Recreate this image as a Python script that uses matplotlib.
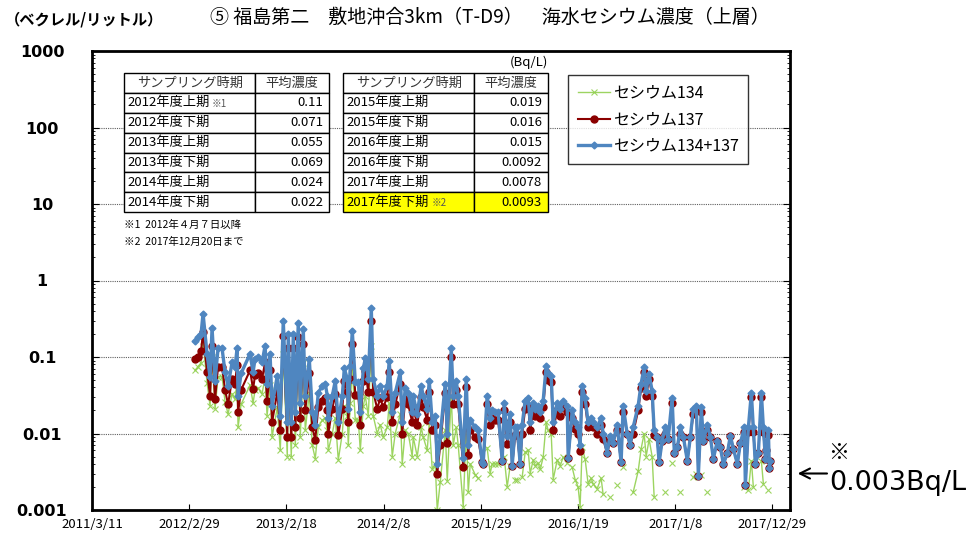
"""⑤ 福島第二 敷地沖合3km (T-D9) seawater cesium concentration (upper layer)."""
import datetime as dt

import matplotlib
matplotlib.use("Agg")
import matplotlib.pyplot as plt
import numpy as np
import pandas as pd

plt.rcParams["font.family"] = ["Noto Sans CJK JP", "DejaVu Sans"]

nan = np.nan

# sampling dates, decimal years
YEARS = [
    2012.22, 2012.25, 2012.28, 2012.30, 2012.34, 2012.37, 2012.39, 2012.42, 2012.45, 2012.49,
    2012.52, 2012.55, 2012.59, 2012.62, 2012.64, 2012.65, 2012.68, 2012.77, 2012.80, 2012.82,
    2012.85, 2012.89, 2012.92, 2012.94, 2012.97, 2012.99, 2013.04, 2013.07, 2013.10, 2013.14,
    2013.15, 2013.18, 2013.20, 2013.22, 2013.25, 2013.27, 2013.30, 2013.32, 2013.36, 2013.39,
    2013.42, 2013.45, 2013.49, 2013.52, 2013.54, 2013.55, 2013.59, 2013.62, 2013.65, 2013.69,
    2013.71, 2013.74, 2013.75, 2013.77, 2013.79, 2013.82, 2013.85, 2013.87, 2013.90, 2013.92,
    2013.95, 2013.98, 2014.00, 2014.04, 2014.07, 2014.10, 2014.14, 2014.16, 2014.19, 2014.22,
    2014.27, 2014.29, 2014.32, 2014.35, 2014.39, 2014.40, 2014.44, 2014.48, 2014.50, 2014.54,
    2014.56, 2014.59, 2014.62, 2014.64, 2014.67, 2014.72, 2014.74, 2014.78, 2014.80, 2014.83,
    2014.85, 2014.90, 2014.93, 2014.95, 2014.97, 2015.02, 2015.05, 2015.09, 2015.10, 2015.14,
    2015.17, 2015.19, 2015.22, 2015.25, 2015.29, 2015.31, 2015.34, 2015.37, 2015.39, 2015.42,
    2015.44, 2015.47, 2015.49, 2015.52, 2015.55, 2015.57, 2015.60, 2015.62, 2015.65, 2015.67,
    2015.70, 2015.73, 2015.75, 2015.78, 2015.80, 2015.84, 2015.87, 2015.90, 2015.94, 2015.95,
    2015.99, 2016.02, 2016.05, 2016.07, 2016.09, 2016.12, 2016.15, 2016.18, 2016.20, 2016.24,
    2016.28, 2016.30, 2016.34, 2016.37, 2016.40, 2016.44, 2016.48, 2016.50, 2016.54, 2016.57,
    2016.60, 2016.65, 2016.68, 2016.71, 2016.73, 2016.76, 2016.79, 2016.81, 2016.84, 2016.86,
    2016.89, 2016.92, 2016.95, 2016.99, 2017.01, 2017.04, 2017.07, 2017.10, 2017.14, 2017.17,
    2017.20, 2017.23, 2017.25, 2017.28, 2017.30, 2017.34, 2017.37, 2017.40, 2017.44, 2017.47,
    2017.50, 2017.54, 2017.57, 2017.60, 2017.64, 2017.67, 2017.71, 2017.72, 2017.75, 2017.78,
    2017.80, 2017.82, 2017.85, 2017.88, 2017.90, 2017.92, 2017.93, 2017.95, 2017.96, 2017.97,
]

CS_TOTAL = [
    .16, .18, .20, .37, .11, .054, .24, .049, .13, .13,
    .063, .042, .085, .073, .13, .031, .061, .11, .063, .095,
    .10, .085, .14, .044, .11, .023, .057, .017, .30, .014,
    .20, .014, .20, .019, .28, .025, .23, .031, .095, .019,
    .013, .034, .042, .045, .031, .016, .031, .049, .014, .031,
    .071, .052, .021, .077, .22, .047, .047, .019, .071, .096,
    .052, .44, .052, .031, .042, .031, .042, .089, .019, .034,
    .063, .014, .039, .034, .019, .031, .018, .042, .031, .021,
    .049, .014, .017, .0040, .0094, .045, .010, .13, .031, .049,
    .031, .0048, .052, .0070, .015, .012, .011, .0042, .0040, .031,
    .016, .020, .019, .019, .0044, .025, .0094, .018, .0038, .012,
    .012, .0040, .013, .027, .029, .014, .025, .021, .023, .019,
    .027, .077, .061, .057, .014, .025, .021, .027, .023, .0048,
    .020, .014, .012, .0070, .042, .029, .014, .016, .014, .012,
    .016, .010, .0056, .0094, .0076, .013, .0042, .023, .010, .0070,
    .012, .023, .045, .073, .036, .060, .036, .011, .0090, .0042,
    .0080, .012, .0085, .029, .0055, .0066, .012, .0090, .0044, .0090,
    .021, .023, .0028, .022, .0080, .013, .0090, .0047, .0080, .0066,
    .0040, .0055, .0094, .0063, .0040, .0075, .012, .0021, .012, .034,
    .012, .0040, .0055, .034, .012, .0047, .0060, .011, .0035, .0044,
]

CS137 = [
    .093, .10, .12, .21, .064, .031, .14, .028, .075, .075,
    .037, .024, .052, .045, .079, .019, .037, .067, .038, .058,
    .061, .052, .085, .027, .067, .014, .035, .011, .19, .0090,
    .13, .0090, .13, .012, .18, .016, .15, .020, .061, .012,
    .0083, .022, .027, .029, .020, .010, .021, .033, .0095, .021,
    .048, .035, .014, .052, .15, .032, .032, .013, .048, .065,
    .035, .30, .035, .021, .029, .022, .030, .064, .014, .024,
    .045, .010, .028, .024, .014, .022, .013, .030, .022, .015,
    .035, .011, .013, .0030, .0071, .034, .0076, .099, .024, .037,
    .024, .0037, .040, .0053, .011, .0091, .0084, .0042, .0040, .024,
    .013, .016, .015, .015, .0044, .020, .0074, .014, .0038, .0095,
    .0095, .0040, .010, .021, .023, .011, .020, .017, .019, .016,
    .022, .063, .050, .047, .011, .020, .017, .022, .019, .0048,
    .016, .0115, .010, .0059, .035, .024, .012, .013, .012, .010,
    .013, .0084, .0056, .0079, .0076, .011, .0042, .019, .010, .0070,
    .010, .020, .039, .063, .031, .052, .031, .0095, .0090, .0042,
    .0080, .010, .0085, .025, .0055, .0066, .010, .0090, .0044, .0090,
    .018, .020, .0028, .019, .0080, .011, .0090, .0047, .0080, .0066,
    .0040, .0055, .0094, .0063, .0040, .0075, .0105, .0021, .0105, .030,
    .0105, .0040, .0055, .030, .0105, .0047, .0060, .0095, .0035, .0044,
]

# nan = not detected (not plotted)
CS134 = [
    .067, .075, .084, .16, .046, .023, .10, .021, .055, .055,
    .026, .018, .033, .028, .051, .012, .024, .043, .025, .037,
    .039, .033, .055, .017, .043, .0090, .022, .0060, .11, .0050,
    .072, .0050, .072, .0070, .10, .0090, .083, .011, .034, .0070,
    .0047, .012, .015, .016, .011, .0060, .010, .016, .0045, .010,
    .023, .017, .0070, .025, .070, .015, .015, .0060, .023, .031,
    .017, .14, .017, .010, .013, .0090, .012, .025, .0050, .010,
    .018, .0040, .011, .010, .0050, .0090, .0050, .012, .0090, .0060,
    .014, .0034, .0040, .0010, .0023, .011, .0024, .031, .0070, .012,
    .0070, .0011, .012, .0017, .0040, .0029, .0026, nan, nan, .0065,
    .0030, .0040, .0040, .0040, nan, .0050, .0020, .0038, nan, .0025,
    .0025, nan, .0027, .0057, .0060, .0030, .0045, .0038, .0041, .0034,
    .0049, .014, .011, .010, .0025, .0045, .0038, .0049, .0041, nan,
    .0036, .0025, .0020, .0011, .0067, .0046, .0022, .0026, .0022, .0019,
    .0026, .0016, nan, .0015, nan, .0021, nan, .0037, nan, nan,
    .0017, .0032, .0063, .010, .0050, .0084, .0050, .0015, nan, nan,
    nan, .0017, nan, .0041, nan, nan, .0017, nan, nan, nan,
    .0027, .0030, nan, .0029, nan, .0017, nan, nan, nan, nan,
    nan, nan, nan, nan, nan, nan, .0020, nan, .0018, .0044,
    .0020, nan, nan, .0044, .0022, nan, nan, .0018, nan, nan,
]

PERIODS_1 = ["2012年度上期", "2012年度下期", "2013年度上期",
             "2013年度下期", "2014年度上期", "2014年度下期"]
MEANS_1 = ["0.11", "0.071", "0.055", "0.069", "0.024", "0.022"]
PERIODS_2 = ["2015年度上期", "2015年度下期", "2016年度上期",
             "2016年度下期", "2017年度上期", "2017年度下期"]
MEANS_2 = ["0.019", "0.016", "0.015", "0.0092", "0.0078", "0.0093"]

TICK_START = "2011-03-11"
TICK_STEP_DAYS = 355
N_TICKS = 8


def to_date(y):
    yr = int(y)
    return dt.datetime(yr, 1, 1) + dt.timedelta(days=(y - yr) * 365.25)


dates = [to_date(y) for y in YEARS]

fig = plt.figure(figsize=(9.76, 5.38), dpi=100)
ax = fig.add_axes([92 / 976, 1 - 510 / 538, 698 / 976, 459 / 538])

GREEN, RED, BLUE = "#92D050", "#8B0000", "#4F86C0"
ax.plot(dates, CS134, color=GREEN, lw=1.0, marker="x", ms=5, mew=0.8,
        alpha=0.9, label="セシウム134", zorder=2)
ax.plot(dates, CS137, color=RED, lw=1.5, marker="o", ms=5,
        label="セシウム137", zorder=3)
ax.plot(dates, CS_TOTAL, color=BLUE, lw=2.4, marker="D", ms=3.5,
        label="セシウム134+137", zorder=4)

ax.set_yscale("log")
ax.set_ylim(0.001, 1000)
ticks = pd.date_range(TICK_START, periods=N_TICKS, freq=f"{TICK_STEP_DAYS}D")
ax.set_xlim(ticks[0], ticks[0] + pd.Timedelta(days=2549))
ax.set_xticks(ticks)
ax.set_xticklabels([f"{d.year}/{d.month}/{d.day}" for d in ticks], fontsize=9.5)
yt = [0.001, 0.01, 0.1, 1, 10, 100, 1000]
ax.set_yticks(yt)
ax.set_yticklabels(["0.001", "0.01", "0.1", "1", "10", "100", "1000"],
                   fontsize=11.5, fontweight="bold", family="DejaVu Sans")
for lab in ax.get_yticklabels():
    lab.set_ha("center")
ax.tick_params(axis="both", which="both", direction="in", right=True)
ax.tick_params(axis="y", which="major", length=5, pad=36)
ax.tick_params(axis="y", which="minor", length=2.5)
ax.tick_params(axis="x", which="major", length=4, pad=6)
ax.grid(True, axis="y", which="major", ls=(0, (1, 1)), color="#606060", lw=0.8)
for s in ax.spines.values():
    s.set_linewidth(2)

# summary tables
def make_table(periods, means, x0):
    tb = ax.table(cellText=[[p, m] for p, m in zip(periods, means)],
                  colLabels=["サンプリング時期", "平均濃度"],
                  colWidths=[0.64, 0.36], cellLoc="left",
                  bbox=[x0, 0.649, 0.2937, 0.303], zorder=5)
    tb.auto_set_font_size(False)
    tb.set_fontsize(9.5)
    for (r, c), cell in tb.get_celld().items():
        cell.set_linewidth(1)
        cell.PAD = 0.03
        if r == 0:
            cell._loc = "center"
            cell.get_text().set_ha("center")
            cell.get_text().set_color("#333333")
        elif c == 1:
            cell._loc = "right"
            cell.get_text().set_ha("right")
            cell.PAD = 0.08
    return tb


make_table(PERIODS_1, MEANS_1, (124 - 92) / 698)
tb2 = make_table(PERIODS_2, MEANS_2, (343 - 92) / 698)
tb2[len(PERIODS_2), 0].set_facecolor("#FFFF00")
tb2[len(PERIODS_2), 1].set_facecolor("#FFFF00")

ax.text(0.172, 0.885, "※1", transform=ax.transAxes, fontsize=7,
        color="#555555", va="center", zorder=6)
ax.text(0.487, 0.669, "※2", transform=ax.transAxes, fontsize=7,
        color="#555555", va="center", zorder=6)
ax.text(0.653, 0.976, "(Bq/L)", transform=ax.transAxes, fontsize=9.5,
        ha="right", va="center")
ax.text(0.0458, 0.621, "※1  2012年４月７日以降", transform=ax.transAxes,
        fontsize=7.5, va="center")
ax.text(0.0458, 0.584, "※2  2017年12月20日まで", transform=ax.transAxes,
        fontsize=7.5, va="center")

leg = ax.legend(loc="upper left", bbox_to_anchor=((568 - 92) / 698, (510 - 75) / 459),
                fontsize=11.5, frameon=True, fancybox=False, edgecolor="black",
                handlelength=2.0, handletextpad=0.2, labelspacing=0.6,
                borderpad=0.6, borderaxespad=0)
leg.get_frame().set_linewidth(1)
leg.set_zorder(6)

fig.text(0.502, 0.967, "⑤ 福島第二　敷地沖合3km（T-D9）　海水セシウム濃度（上層）",
         ha="center", va="center", fontsize=13.7)
fig.text(0.005, 0.963, "（ベクレル/リットル）", ha="left", va="center",
         fontsize=11, fontweight="bold")

# detection limit marker outside the axes
ax.annotate("", xy=(1.007, 0.003), xycoords=("axes fraction", "data"),
            xytext=(1.057, 0.003), textcoords=("axes fraction", "data"),
            arrowprops=dict(arrowstyle="->", lw=1.5, mutation_scale=18),
            annotation_clip=False)
fig.text(0.859, 0.158, "※", ha="center", va="center", fontsize=15)
fig.text(0.850, 0.102, "0.003Bq/L", ha="left", va="center", fontsize=19.5,
         family="DejaVu Sans")

fig.savefig("out.png", dpi=100)
